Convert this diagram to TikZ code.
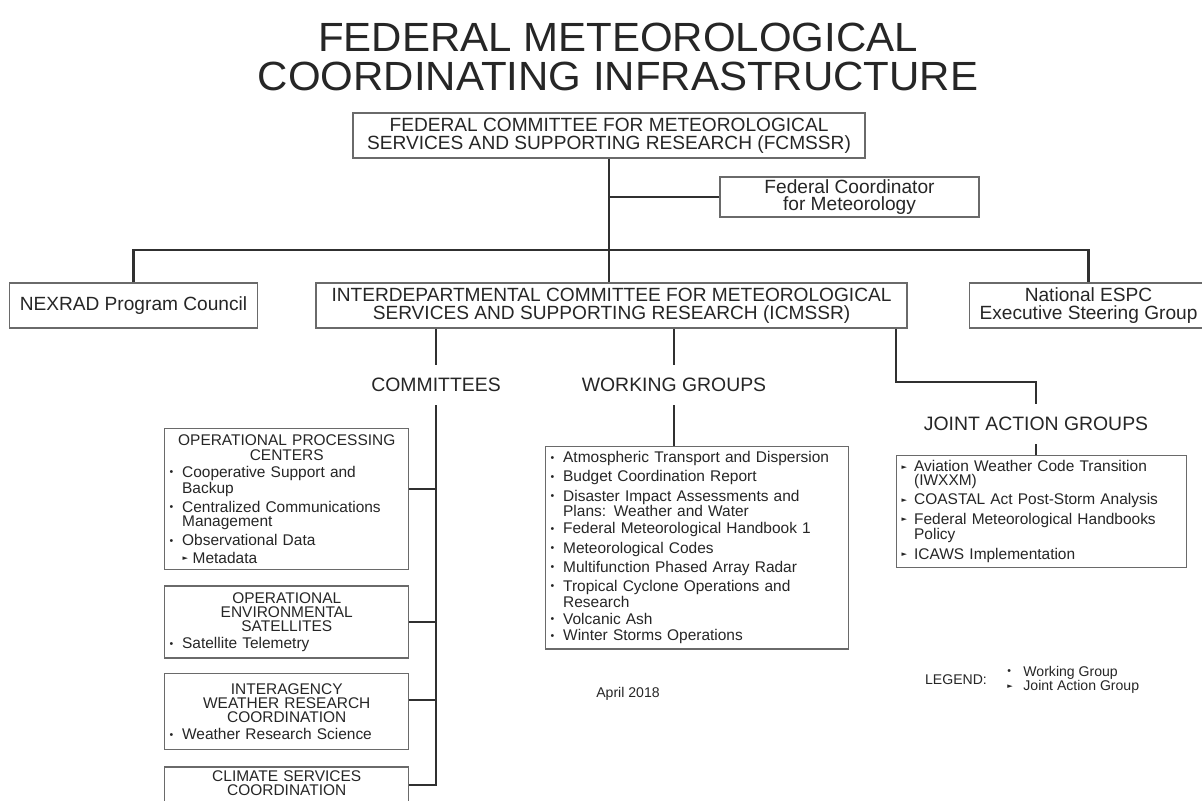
\documentclass[tikz,border=0pt]{standalone}
\usepackage{fontspec}
\setmainfont{Liberation Sans}
\newfontfamily\titlefont[FakeStretch=1.03]{Liberation Sans}
\newfontfamily\symfont{DejaVu Sans}
\usepackage{xcolor}
\usepackage{tikz}
\usetikzlibrary{
  positioning,
  calc
}
\definecolor{inkgrey}{HTML}{262626}
\definecolor{linegrey}{HTML}{303030}
\definecolor{framegrey}{HTML}{6A6A6A}

\newcommand{\bul}[1][9pt]{\makebox[#1][l]{\raisebox{0.2ex}{\fontsize{7.5}{7.5}\selectfont\textbullet}}}
\newcommand{\tri}[1][9pt]{\makebox[#1][l]{\raisebox{0.3ex}{\symfont\fontsize{5}{5}\selectfont ►}}}
\newcommand{\wgfirst}[1]{\hangindent=9pt\hangafter=1\noindent\bul#1}
\newcommand{\wgitem}[1]{\par\addvspace{2.4pt}\wgfirst{#1}}
\newcommand{\jagfirst}[1]{\hangindent=9pt\hangafter=1\noindent\tri#1}
\newcommand{\jagitem}[1]{\par\addvspace{2.4pt}\jagfirst{#1}}
\newcommand{\boxhead}[1]{{\centering #1\par}}

\tikzset{
  orgbox/.style={
    rectangle, draw=framegrey, line width=1pt, fill=white, text=inkgrey,
    align=center, inner sep=0pt,
    font=\fontsize{13.6}{12.6}\selectfont
  },
  listbox/.style={
    rectangle, draw=framegrey, line width=1pt, fill=white, text=inkgrey,
    text width=#1, align=left, inner xsep=0.12cm, inner ysep=0.12cm,
    font=\fontsize{11}{10}\selectfont
  },
  grouplabel/.style={
    text=inkgrey, inner sep=0pt, minimum height=1cm,
    font=\fontsize{13.8}{14}\selectfont
  },
  link/.style={
    draw=linegrey, line width=1.5pt
  },
  smalltext/.style={
    text=inkgrey, inner sep=0pt, font=\fontsize{10}{9}\selectfont
  },
}

\begin{document}
\begin{tikzpicture}[x=0.025cm, y=-0.025cm, node distance=0.375cm]

  \clip (0,0) rectangle (1202,801);
  \fill[white] (0,0) rectangle (1202,801);

  %% ── Title ─────────────────────────────────────────────────────────────────
  \node[text=inkgrey, align=center,
        font=\titlefont\fontsize{29}{27.5}\selectfont] (title) at (618,57)
        {FEDERAL METEOROLOGICAL\\COORDINATING INFRASTRUCTURE};

  %% ── Top level ─────────────────────────────────────────────────────────────
  \node[orgbox, minimum width=12.8cm, minimum height=1.125cm] (fcmssr) at (609,135.5)
        {FEDERAL COMMITTEE FOR METEOROLOGICAL\\SERVICES AND SUPPORTING RESEARCH (FCMSSR)};
  \node[orgbox, minimum width=6.475cm, minimum height=1cm] (fedcoord) at (849.5,197)
        {Federal Coordinator\\for Meteorology};
  \node[orgbox, minimum width=14.775cm, minimum height=1.125cm] (icmssr) at (611.5,305.5)
        {INTERDEPARTMENTAL COMMITTEE FOR METEOROLOGICAL\\SERVICES AND SUPPORTING RESEARCH (ICMSSR)};
  \node[orgbox, minimum width=6.2cm, minimum height=1.125cm, left=1.425cm of icmssr] (nexrad)
        {NEXRAD Program Council};
  \node[orgbox, minimum width=5.95cm, minimum height=1.125cm, right=1.525cm of icmssr] (espc)
        {National ESPC\\Executive Steering Group};

  %% ── Group headings ────────────────────────────────────────────────────────
  \node[grouplabel] (comlbl) at (436,385)  {COMMITTEES};
  \node[grouplabel] (wglbl)  at (674,385)  {WORKING GROUPS};
  \node[grouplabel] (jaglbl) at (1036,424) {JOINT ACTION GROUPS};
  \coordinate (jagturn) at (896,382);

  %% ── Committees ────────────────────────────────────────────────────────────
  \node[listbox=5.86cm, anchor=north west, minimum height=3.525cm] (opc) at (164,428) {%
    \boxhead{OPERATIONAL PROCESSING\\CENTERS}
    \wgitem{Cooperative Support and\newline Backup}
    \wgitem{Centralized Communications\newline Management}
    \wgitem{Observational Data}
    \par\addvspace{2.4pt}\noindent\hspace*{0.33cm}\tri[0.25cm]Metadata};
  \node[listbox=5.86cm, below=of opc, minimum height=1.8cm] (oes) {%
    \boxhead{OPERATIONAL\\ENVIRONMENTAL\\SATELLITES}
    \wgitem{Satellite Telemetry}};
  \node[listbox=5.86cm, below=0.35cm of oes, minimum height=1.9cm] (iwrc) {%
    \boxhead{INTERAGENCY\\WEATHER RESEARCH\\COORDINATION}
    \wgitem{Weather Research Science}};
  \node[listbox=5.86cm, below=0.4cm of iwrc, inner ysep=0.08cm] (csc) {%
    \boxhead{CLIMATE SERVICES\\COORDINATION}
    \noindent\rule{0pt}{0.9cm}};

  %% ── Working groups ────────────────────────────────────────────────────────
  \node[listbox=7.335cm, anchor=north west, minimum height=4.875cm,
        font=\fontsize{11}{9.6}\selectfont] (wgbox) at (545,446) {%
    \wgfirst{Atmospheric Transport and Dispersion}
    \wgitem{Budget Coordination Report}
    \wgitem{Disaster Impact Assessments and\newline Plans: Weather and Water}
    \wgitem{Federal Meteorological Handbook 1}
    \wgitem{Meteorological Codes}
    \wgitem{Multifunction Phased Array Radar}
    \wgitem{Tropical Cyclone Operations and\newline Research}
    \wgitem{Volcanic Ash}
    \wgitem{Winter Storms Operations}};

  %% ── Joint action groups ───────────────────────────────────────────────────
  \node[listbox=7.01cm, anchor=north west, minimum height=2.55cm] (jagbox) at (896,455) {%
    \jagfirst{Aviation Weather Code Transition\newline (IWXXM)}
    \jagitem{COASTAL Act Post-Storm Analysis}
    \jagitem{Federal Meteorological Handbooks\newline Policy}
    \jagitem{ICAWS Implementation}};

  %% ── Legend and date ───────────────────────────────────────────────────────
  \node[smalltext] (legend) at (956,680) {LEGEND:};
  \node[smalltext, align=left, right=0.5cm of legend] (legendkey)
        {\bul[0.4cm]Working Group\\\tri[0.4cm]Joint Action Group};
  \node[smalltext] (date) at (628,694) {April 2018};

  %% ── Connectors ────────────────────────────────────────────────────────────
  % top level
  \draw[link] (fcmssr.south) -- (fcmssr.south |- icmssr.north);
  \draw[link] (fedcoord.west) -- (fedcoord.west -| fcmssr.south);
  \draw[link] (nexrad.north) |- (fcmssr.south |- 0,250) -| (espc.north);

  % ICMSSR to its groups
  \draw[link] (icmssr.south -| comlbl.north) -- (comlbl.north);
  \draw[link] (icmssr.south -| wglbl.north) -- (wglbl.north);
  \draw[link] (icmssr.south -| jagturn) -- (jagturn) -| (jaglbl.north);
  \draw[link] (wglbl.south) -- (wglbl.south |- wgbox.north);
  \draw[link] (jaglbl.south) -- (jaglbl.south |- jagbox.north);

  % committee spine
  \draw[link] (comlbl.south) |- ([yshift=-0.475cm]csc.north east);
  \draw[link] ([yshift=0.26cm]opc.east) -- ([yshift=0.26cm]opc.east -| comlbl.south);
  \draw[link] (oes.east) -- (oes.east -| comlbl.south);
  \draw[link] ([yshift=0.3cm]iwrc.east) -- ([yshift=0.3cm]iwrc.east -| comlbl.south);

\end{tikzpicture}
\end{document}
